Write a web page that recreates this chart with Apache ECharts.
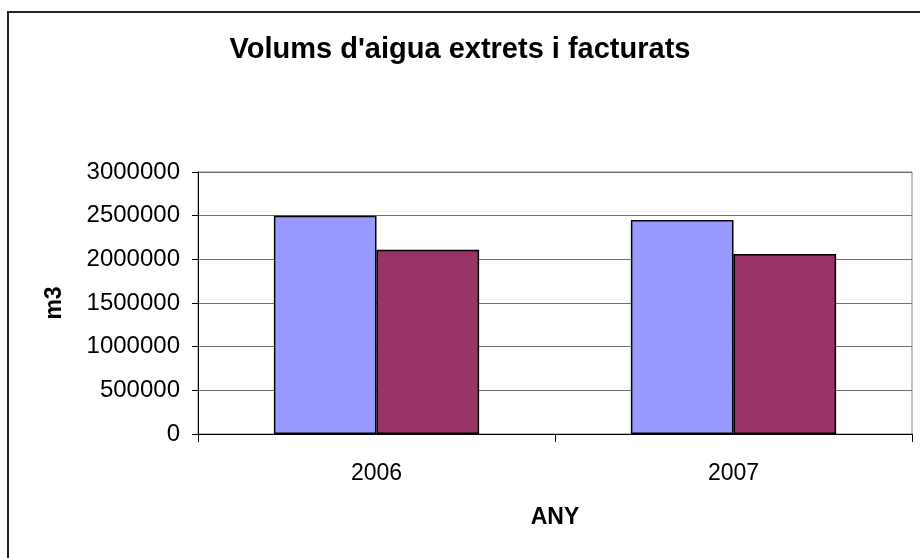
<!DOCTYPE html>
<html>
<head>
<meta charset="utf-8">
<script src="https://cdn.jsdelivr.net/npm/echarts@6/dist/echarts.min.js"></script>
<style>
html,body{margin:0;padding:0;background:#fff;}
#chart{width:920px;height:558px;}
</style>
</head>
<body>
<div id="chart"></div>
<script>
var categories = ['2006', '2007'];
var extrets = [2500000, 2450000];
var facturats = [2110000, 2060000];
var yTicks = [0, 500000, 1000000, 1500000, 2000000, 2500000, 3000000];

var chart = echarts.init(document.getElementById('chart'), null, {renderer: 'canvas'});
var font = 'Liberation Sans, Arial, sans-serif';
chart.setOption({
  animation: false,
  backgroundColor: '#fff',
  graphic: [{
    type: 'rect',
    shape: {x: 8, y: 12, width: 940, height: 580},
    style: {fill: 'none', stroke: '#222', lineWidth: 2},
    z: 100
  }],
  title: {
    text: "Volums d'aigua extrets i facturats",
    left: 'center',
    top: 30,
    textStyle: {fontFamily: font, fontSize: 29, fontWeight: 'bold', color: '#000'}
  },
  grid: {
    left: 198, right: 8, top: 172, bottom: 124,
    show: true, borderColor: '#808080', borderWidth: 1
  },
  xAxis: {
    type: 'category',
    data: categories,
    name: 'ANY',
    nameLocation: 'middle',
    nameGap: 72,
    nameMoveOverlap: false,
    nameTextStyle: {fontFamily: font, fontSize: 23, fontWeight: 'bold', color: '#000'},
    axisLine: {lineStyle: {color: '#000', width: 1}},
    axisTick: {show: true, length: 8, lineStyle: {color: '#000'}},
    axisLabel: {fontFamily: font, fontSize: 23, color: '#000', margin: 28}
  },
  yAxis: {
    type: 'value',
    min: 0, max: 3000000, interval: 500000,
    name: 'm3',
    nameLocation: 'middle',
    nameGap: 132,
    nameRotate: 90,
    nameMoveOverlap: false,
    nameTextStyle: {fontFamily: font, fontSize: 23, fontWeight: 'bold', color: '#000'},
    axisLine: {show: true, lineStyle: {color: '#000', width: 1}},
    axisTick: {show: true, length: 6, lineStyle: {color: '#000'}},
    axisLabel: {fontFamily: font, fontSize: 24, color: '#000', margin: 18,
      formatter: function (v) { return yTicks.indexOf(v) >= 0 ? String(v) : ''; }},
    splitLine: {show: true, lineStyle: {color: '#707070', width: 1}}
  },
  series: [{
    name: 'Extrets',
    type: 'bar',
    data: extrets,
    barGap: '0%',
    barCategoryGap: '42.5%',
    itemStyle: {color: '#9999FF', borderColor: '#000', borderWidth: 1.5}
  }, {
    name: 'Facturats',
    type: 'bar',
    data: facturats,
    itemStyle: {color: '#993366', borderColor: '#000', borderWidth: 1.5}
  }]
});
</script>
</body>
</html>
